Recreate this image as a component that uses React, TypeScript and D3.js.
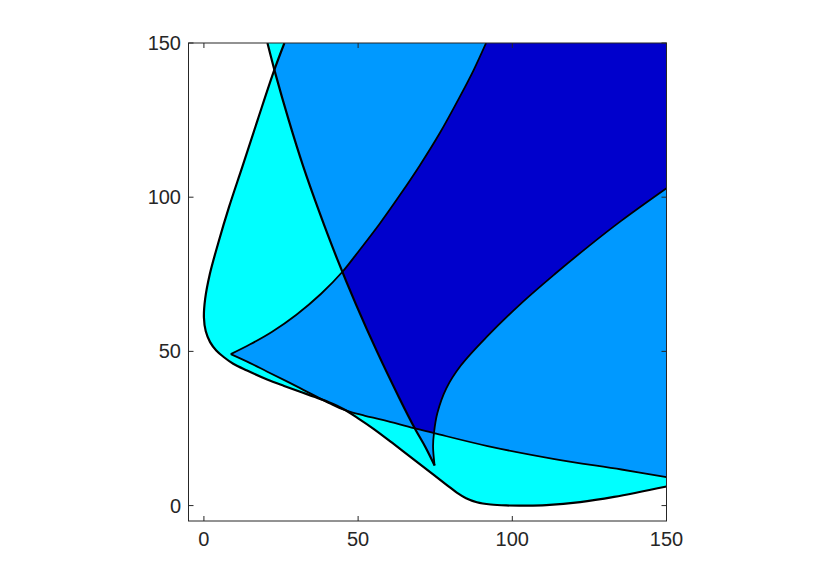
import React from "react";
import * as d3 from "d3";

type Pt = [number, number];

// outer boundary (thick curve from top, around the left, to bottom right)
const curveA: Pt[] = [
  [26.1, 150], [22.8, 141.2], [17.4, 125], [12.5, 110], [8.2, 97],
  [4.6, 85], [1.9, 75], [0.4, 67], [0, 61], [0.6, 56.5], [2.0, 53.0],
  [4.0, 50.3], [6.5, 48.1], [9.5, 46.0], [14, 43.8], [20.5, 40.9],
  [26, 38.8], [31.2, 36.9], [36, 35.2], [40.5, 33.5], [45.2, 31.3],
  [50, 28.3], [55, 24.9], [61, 20.4], [68, 15.0], [74, 10.4], [79, 6.5],
  [82, 4.2], [85, 2.4], [88.5, 1.1], [93, 0.35], [98, 0.05], [104, 0],
  [111, 0.15], [122, 1.1], [133, 2.8], [150, 6.2],
];

// line from the top down to the right cusp
const curveB: Pt[] = [
  [20.6, 150], [23.2, 140], [27.5, 125], [32.2, 110], [37.5, 95],
  [43.2, 80], [49.4, 65], [56.1, 50], [63.3, 35], [68.4, 25], [71.8, 19],
  [74.8, 13.0],
];

// from the right cusp up to the right edge
const curveC: Pt[] = [
  [74.8, 13.0], [74.3, 19.2], [74.6, 23.6], [75.7, 30.0], [78.6, 38.0],
  [83.3, 45.4], [92.0, 55.0], [102.8, 65.5], [113.7, 75.0], [124.5, 83.9],
  [135.4, 92.4], [150, 102.9],
];

// from the left cusp up to the top
const curveD: Pt[] = [
  [8.7, 49.1], [15, 52.3], [22, 56.3], [30, 61.9], [38, 68.7], [45, 75.9],
  [50.5, 82.9], [57, 91.4], [63.5, 100.6], [70, 110.3], [76.5, 120.8],
  [83, 132.6], [87.5, 141.3], [91.5, 150],
];

// from the left cusp to the right edge
const curveE: Pt[] = [
  [8.7, 49.1], [15.0, 46.2], [20.4, 43.5], [31.2, 38.1], [41.0, 33.0],
  [44, 31.6], [47.5, 30.4], [52, 29.2], [58.3, 27.7], [68.1, 25.1],
  [74.6, 23.5], [92.0, 19.3], [113.7, 15.1], [135.4, 11.7], [150, 9.2],
];

const xTicks = [0, 50, 100, 150];
const yTicks = [0, 50, 100, 150];
const domainX: Pt = [-5, 150];
const domainY: Pt = [-5, 150];

const levelColors = ["#00ffff", "#0099ff", "#0000cc"];

const W = 825;
const H = 587;
const LEFT = 188.5;
const RIGHT = 666.5;
const TOP = 43;
const BOTTOM = 521;
const AXIS = "#262626";

export default function App() {
  const x = d3.scaleLinear().domain(domainX).range([LEFT, RIGHT]);
  const y = d3.scaleLinear().domain(domainY).range([BOTTOM, TOP]);

  const line = d3
    .line<Pt>()
    .x((d) => x(d[0]))
    .y((d) => y(d[1]))
    .curve(d3.curveCatmullRom.alpha(0.5));

  const seg = (pts: Pt[]) => (line(pts) || "").replace(/^M/, "L");
  const corner = `L${x(domainX[1])},${y(domainY[1])}`;

  // three regions; colour = how many of them cover a point
  const regA = line(curveA) + corner + "Z";
  const regB = line(curveB) + seg(curveC) + corner + "Z";
  const regQ = line(curveD) + corner + seg([...curveE].reverse()) + "Z";

  const curves = [curveA, curveB, curveC, curveD, curveE];

  return (
    <svg
      width={W}
      height={H}
      style={{ position: "absolute", left: 0, top: 0, background: "#fff" }}
      fontFamily="'Liberation Sans', Arial, sans-serif"
    >
      <defs>
        <clipPath id="plot">
          <rect x={LEFT} y={TOP} width={RIGHT - LEFT} height={BOTTOM - TOP} />
        </clipPath>
        <clipPath id="cA"><path d={regA} /></clipPath>
        <clipPath id="cB"><path d={regB} /></clipPath>
        <clipPath id="cQ"><path d={regQ} /></clipPath>
      </defs>

      <g clipPath="url(#plot)">
        {/* one region */}
        <path d={regA} fill={levelColors[0]} />
        <path d={regB} fill={levelColors[0]} />
        <path d={regQ} fill={levelColors[0]} />
        {/* two regions */}
        <path d={regA} fill={levelColors[1]} clipPath="url(#cB)" />
        <path d={regA} fill={levelColors[1]} clipPath="url(#cQ)" />
        <path d={regB} fill={levelColors[1]} clipPath="url(#cQ)" />
        {/* three regions */}
        <g clipPath="url(#cB)">
          <path d={regA} fill={levelColors[2]} clipPath="url(#cQ)" />
        </g>

        {curves.map((c, i) => (
          <path
            key={i}
            d={line(c) || ""}
            fill="none"
            stroke="#000"
            strokeWidth={i < 2 ? 2.2 : 1.8}
            strokeLinejoin="round"
          />
        ))}
      </g>

      {/* axes box */}
      <rect
        x={LEFT}
        y={TOP}
        width={RIGHT - LEFT}
        height={BOTTOM - TOP}
        fill="none"
        stroke={AXIS}
        strokeWidth={1}
      />
      {xTicks.map((t) => (
        <g key={"x" + t}>
          <line x1={x(t)} x2={x(t)} y1={BOTTOM} y2={BOTTOM - 5} stroke={AXIS} />
          <line x1={x(t)} x2={x(t)} y1={TOP} y2={TOP + 5} stroke={AXIS} />
          <text x={x(t)} y={BOTTOM + 25} textAnchor="middle" fontSize={20} fill={AXIS}>
            {t}
          </text>
        </g>
      ))}
      {yTicks.map((t) => (
        <g key={"y" + t}>
          <line x1={LEFT} x2={LEFT + 5} y1={y(t)} y2={y(t)} stroke={AXIS} />
          <line x1={RIGHT} x2={RIGHT - 5} y1={y(t)} y2={y(t)} stroke={AXIS} />
          <text x={181} y={y(t) + 7} textAnchor="end" fontSize={20} fill={AXIS}>
            {t}
          </text>
        </g>
      ))}
    </svg>
  );
}
